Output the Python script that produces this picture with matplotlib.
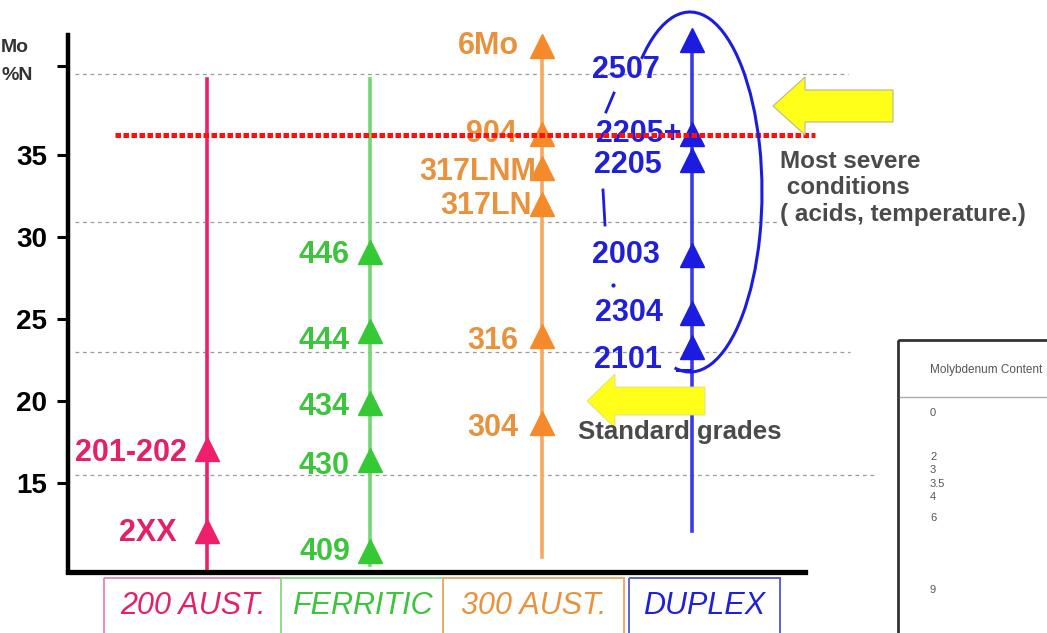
import matplotlib
matplotlib.use("Agg")
import matplotlib.pyplot as plt
from matplotlib.patches import FancyArrow, Rectangle, Arc

plt.rcParams['font.family'] = ['Liberation Sans', 'DejaVu Sans']

# --- data: PREN value of each grade, per family ---
families = ['200 AUST.', 'FERRITIC', '300 AUST.', 'DUPLEX']
grades_200 = ['201-202', '2XX']
pren_200 = [17.1, 12.1]
grades_fer = ['446', '444', '434', '430', '409']
pren_fer = [29.1, 24.3, 19.9, 16.4, 10.9]
grades_300 = ['6Mo', '904', '317LNM', '317LN', '316', '304']
pren_300 = [41.6, 36.3, 34.2, 32.0, 24.0, 18.7]
grades_dup = ['2507', '2205+', '2205', '2003', '2304', '2101']
pren_dup = [42.0, 36.3, 34.7, 28.9, 25.4, 23.3]

severe_level = 36.2
grid_levels = [39.9, 30.9, 23.0, 15.5]
ytick_vals = [15, 20, 25, 30, 35]

mo_header = 'Molybdenum Content'
mo_values = ['0', '2', '3', '3.5', '4', '6', '9']

# --- layout ---
W, H = 1047, 633
col_x = [207, 370, 542, 692]          # column positions (pixel-like x units)
line_span = [(9.6, 39.6), (10.0, 39.6), (10.5, 41.6), (12.1, 42.0)]
colors = ['#ee1f6b', '#35c935', '#f58a2a', '#1c1ce0']
line_colors = ['#ee1f6b', '#72d872', '#f7a860', '#3a3ae8']
text_colors = ['#e4206a', '#3cc43c', '#e8923e', '#2020d8']
box_colors = ['#f08ab4', '#90e090', '#f0a868', '#6060d8']
box_x = [(104, 281), (281, 443), (443, 624), (629, 780)]

fig = plt.figure(figsize=(W / 100, H / 100), dpi=100)
ax = fig.add_axes([68 / W, (H - 572) / H, (805 - 68) / W, (572 - 35) / H])
ax.set_xlim(68, 805)
ax.set_ylim(9.6, 42.3)
for s in ['top', 'right']:
    ax.spines[s].set_visible(False)
ax.spines['left'].set_linewidth(3.2)
ax.spines['bottom'].set_linewidth(3.8)
ax.set_xticks([])
ax.set_yticks(ytick_vals + [40.4])
ax.set_yticklabels([str(v) for v in ytick_vals] + [''],
                   fontsize=20, fontweight='bold')
ax.tick_params(axis='y', length=8, width=2.2, pad=7)
ax.patch.set_alpha(0)

# dashed grey guide lines
grid_ext = [(75, 848), (75, 780), (75, 850), (75, 875)]
for lv, (x0, x1) in zip(grid_levels, grid_ext):
    ax.plot([x0, x1], [lv, lv], color='#9a9a9a', lw=0.9, ls=(0, (3, 3)),
            clip_on=False, zorder=1)

# red "most severe" line
ax.plot([115, 815], [severe_level, severe_level], color='#ff1010', lw=3.6,
        ls=(0, (1.1, 0.5)), clip_on=False, zorder=6)

series = [(grades_200, pren_200), (grades_fer, pren_fer),
          (grades_300, pren_300), (grades_dup, pren_dup)]
# label offsets in pixels (dx, dy), dy positive = up
offsets = [
    [(-20, -4), (-30, -2)],
    [(-20, -3), (-20, -10), (-20, -4), (-20, -6), (-20, -1)],
    [(-23, 0), (-25, 0), (-6, -4), (-10, -2), (-24, -5), (-24, -5)],
    [(-32, -30), (-10, 0), (-30, -5), (-32, 0), (-29, 0), (-30, -13)],
]
for i, (names, vals) in enumerate(series):
    y0, y1 = line_span[i]
    ax.plot([col_x[i], col_x[i]], [y0, y1], color=line_colors[i],
            lw=2.6, zorder=2, clip_on=False)
    ax.plot([col_x[i]] * len(vals), vals, ls='none', marker='^',
            markersize=17, color=colors[i], zorder=3, clip_on=False)
    for name, v, (dx, dy) in zip(names, vals, offsets[i]):
        ax.annotate(name, (col_x[i], v), xytext=(dx, dy),
                    textcoords='offset pixels', ha='right', va='center',
                    fontsize=22, fontweight='bold', color=text_colors[i],
                    zorder=4)

# --- overlay in pixel coordinates for annotations ---
ov = fig.add_axes([0, 0, 1, 1], zorder=5)
ov.set_xlim(0, W)
ov.set_ylim(H, 0)
ov.axis('off')

ov.text(1, 48, 'Mo', fontsize=14, fontweight='bold', color='#333333',
        va='center', ha='left')
ov.text(1, 76, '%N', fontsize=14, fontweight='bold', color='#333333',
        va='center', ha='left')

# family boxes under the axis
for name, (x0, x1), bc, tc in zip(families, box_x, box_colors, text_colors):
    ov.add_patch(Rectangle((x0, 578), x1 - x0, 70, fill=False, ec=bc,
                           lw=1.4, clip_on=False))
    ov.text((x0 + x1) / 2, 606, name, ha='center', va='center',
            fontsize=22, style='italic', color=tc)

# yellow arrows
ov.add_patch(FancyArrow(893, 106, -120, 0, width=32, head_width=58,
                        head_length=32, length_includes_head=True,
                        fc='#ffff1a', ec='#b8b890', lw=0.8, zorder=1))
ov.add_patch(FancyArrow(705, 401, -118, 0, width=28, head_width=54,
                        head_length=28, length_includes_head=True,
                        fc='#ffff1a', ec='#d8d8a0', lw=0.6, zorder=1))

ov.text(780, 188, 'Most severe\n conditions\n( acids, temperature.)',
        fontsize=17.5, fontweight='bold', color='#4a4a4a', ha='left',
        va='center', linespacing=1.2)
ov.text(578, 432, 'Standard grades', fontsize=18.5, fontweight='bold',
        color='#4a4a4a', ha='left', va='center', zorder=3)

# hand-drawn blue loop and strokes
ov.add_patch(Arc((690, 192), 144, 360, theta1=250, theta2=95,
                 color='#1c1ce0', lw=2.2))
ov.plot([677, 690], [370, 370], color='#1c1ce0', lw=2.2)
ov.plot([606, 614], [112, 93], color='#1c1ce0', lw=2)
ov.plot([603, 605], [190, 225], color='#1c1ce0', lw=2)
ov.plot([613], [285], marker='o', markersize=2, color='#1c1ce0')

# partial table on the right
ov.add_patch(Rectangle((898, 340), 170, 310, fill=False, ec='#333333',
                       lw=2, clip_on=False))
ov.plot([900, W], [397, 397], color='#aaaaaa', lw=1)
ov.text(930, 370, mo_header, fontsize=8.5, color='#555555', va='center')
mo_y = [413, 457, 470, 484, 497, 518, 590]
for t, yy in zip(mo_values, mo_y):
    ov.text(930, yy, t, fontsize=8, color='#555555', va='center')

fig.savefig('out.png', dpi=100)
